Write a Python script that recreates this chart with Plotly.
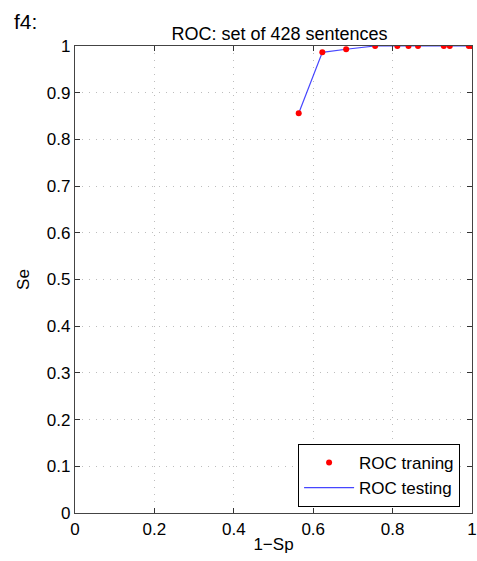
import plotly.graph_objects as go

one_minus_sp = [0.5635, 0.623, 0.683, 0.756, 0.812, 0.840, 0.864, 0.929, 0.944, 0.992, 0.999]
se = [0.856, 0.9865, 0.993, 1.0, 1.0, 1.0, 1.0, 1.0, 1.0, 1.0, 1.0]

x_ticks = [0, 0.2, 0.4, 0.6, 0.8, 1]
x_ticktext = ["0", "0.2", "0.4", "0.6", "0.8", "1"]
y_ticks = [0, 0.1, 0.2, 0.3, 0.4, 0.5, 0.6, 0.7, 0.8, 0.9, 1]
y_ticktext = ["0", "0.1", "0.2", "0.3", "0.4", "0.5", "0.6", "0.7", "0.8", "0.9", "1"]

font = "Liberation Sans, Arial, sans-serif"

fig = go.Figure()
fig.add_trace(go.Scatter(
    x=one_minus_sp, y=se, mode="lines", name="ROC testing",
    line=dict(color="rgba(50,50,255,0.9)", width=1.2), legendrank=2))
fig.add_trace(go.Scatter(
    x=one_minus_sp, y=se, mode="markers", name="ROC traning",
    marker=dict(color="#ff0000", size=6), legendrank=1))

axis_common = dict(
    showgrid=True, gridcolor="#bdbdbd", griddash="1px,6px", gridwidth=1,
    zeroline=False, showline=True, linecolor="#444444", linewidth=1.3, mirror="ticks",
    ticks="inside", ticklen=5, tickcolor="#333333", automargin=False,
    tickfont=dict(family=font, size=17, color="#000000"),
)

fig.update_layout(
    width=477, height=561,
    margin=dict(l=75, r=5, t=46, b=48, autoexpand=False),
    paper_bgcolor="white", plot_bgcolor="white",
    font=dict(family=font, color="#000000"),
    title=dict(text="ROC: set of 428 sentences", x=0.515, xanchor="center",
               xref="paper", y=1, yref="paper", yanchor="bottom", pad=dict(b=6),
               font=dict(family=font, size=18, color="#000000")),
    xaxis=dict(range=[0, 1], tickvals=x_ticks, ticktext=x_ticktext,
               title=dict(text="1−Sp", font=dict(family=font, size=17), standoff=0),
               **axis_common),
    yaxis=dict(range=[0, 1], tickvals=y_ticks, ticktext=y_ticktext,
               title=dict(text="Se", font=dict(family=font, size=17), standoff=12),
               **axis_common),
    legend=dict(x=0.97, y=0.013, xanchor="right", yanchor="bottom",
                bgcolor="white", bordercolor="#000000", borderwidth=1,
                font=dict(family=font, size=17), tracegroupgap=0, itemwidth=50),
    showlegend=True,
)

fig.add_annotation(text="f4:", xref="paper", yref="paper", x=-0.158, y=1.082,
                   xanchor="left", yanchor="top", showarrow=False,
                   font=dict(family=font, size=21, color="#000000"))

fig.write_html("out.html", config={"displayModeBar": False},
               post_script="document.body.style.margin='0';")
